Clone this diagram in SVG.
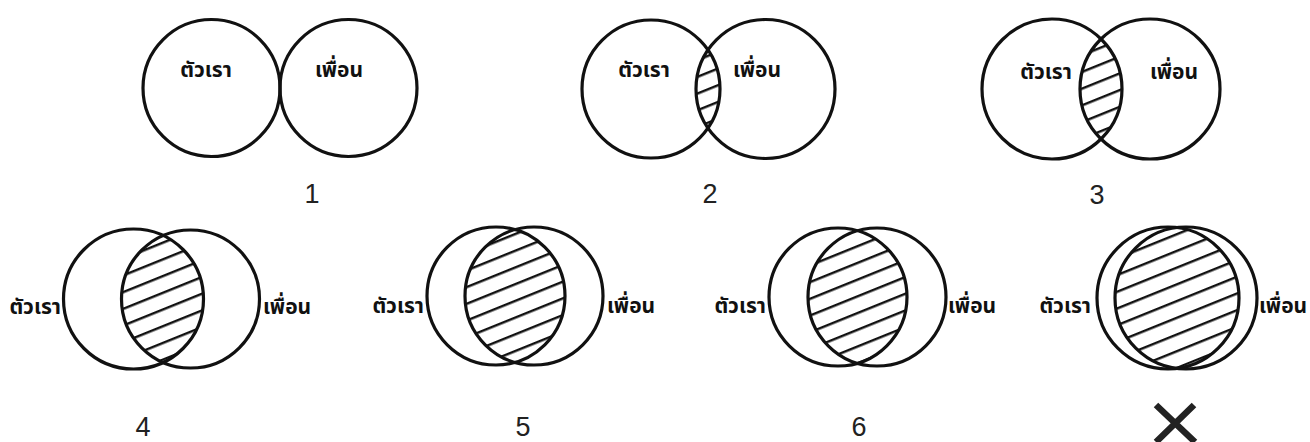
<svg xmlns="http://www.w3.org/2000/svg" width="1310" height="442" viewBox="0 0 1310 442">
<style>
.c{fill:none;stroke:#111;stroke-width:3.2}
.t{font-family:"Noto Sans Thai","Loma","Garuda","Noto Sans","DejaVu Sans",sans-serif;font-size:21px;font-weight:700;fill:#111}
.n{font-family:"Liberation Sans",Arial,sans-serif;font-size:27px;fill:#222;text-anchor:middle}
.m{text-anchor:middle}.e{text-anchor:end}.s{text-anchor:start}
</style>
<defs>
<pattern id="h" width="40" height="15.5" patternUnits="userSpaceOnUse" patternTransform="rotate(-22)">
<line x1="0" y1="7" x2="40" y2="7" stroke="#111" stroke-width="2.6"/>
</pattern>
<clipPath id="k2"><circle cx="651" cy="89" r="69"/></clipPath>
<clipPath id="k3"><circle cx="1052" cy="89" r="70"/></clipPath>
<clipPath id="k4"><circle cx="133.5" cy="299" r="70"/></clipPath>
<clipPath id="k5"><circle cx="496" cy="296" r="69"/></clipPath>
<clipPath id="k6"><circle cx="838" cy="297" r="69"/></clipPath>
<clipPath id="k7"><circle cx="1168" cy="298" r="71"/></clipPath>
</defs>
<rect width="1310" height="442" fill="#fff"/>
<g id="d1">
<circle class="c" cx="211.5" cy="88" r="68.5"/>
<circle class="c" cx="348.5" cy="88" r="68.5"/>
<text class="t m" x="206" y="77">ตัวเรา</text>
<text class="t m" x="339" y="77">เพื่อน</text>
<text class="n" x="312" y="203">1</text>
</g>
<g id="d2">
<circle cx="765.5" cy="89" r="69.5" fill="url(#h)" clip-path="url(#k2)"/>
<circle class="c" cx="651" cy="89" r="69"/>
<circle class="c" cx="765.5" cy="89" r="69.5"/>
<text class="t m" x="644" y="77">ตัวเรา</text>
<text class="t m" x="757" y="77">เพื่อน</text>
<text class="n" x="710" y="203">2</text>
</g>
<g id="d3">
<circle cx="1150" cy="89" r="70" fill="url(#h)" clip-path="url(#k3)"/>
<circle class="c" cx="1052" cy="89" r="70"/>
<circle class="c" cx="1150" cy="89" r="70"/>
<text class="t m" x="1046" y="79">ตัวเรา</text>
<text class="t m" x="1174" y="79">เพื่อน</text>
<text class="n" x="1097" y="204">3</text>
</g>
<g id="d4">
<circle cx="190.5" cy="299" r="69" fill="url(#h)" clip-path="url(#k4)"/>
<circle class="c" cx="133.5" cy="299" r="70"/>
<circle class="c" cx="190.5" cy="299" r="69"/>
<text class="t e" x="61" y="314">ตัวเรา</text>
<text class="t s" x="263" y="314">เพื่อน</text>
<text class="n" x="143" y="436">4</text>
</g>
<g id="d5">
<circle cx="534" cy="296" r="69" fill="url(#h)" clip-path="url(#k5)"/>
<circle class="c" cx="496" cy="296" r="69"/>
<circle class="c" cx="534" cy="296" r="69"/>
<text class="t e" x="424" y="313">ตัวเรา</text>
<text class="t s" x="607" y="313">เพื่อน</text>
<text class="n" x="523" y="436">5</text>
</g>
<g id="d6">
<circle cx="877" cy="297" r="69" fill="url(#h)" clip-path="url(#k6)"/>
<circle class="c" cx="838" cy="297" r="69"/>
<circle class="c" cx="877" cy="297" r="69"/>
<text class="t e" x="766" y="313">ตัวเรา</text>
<text class="t s" x="948" y="313">เพื่อน</text>
<text class="n" x="859" y="436">6</text>
</g>
<g id="d7">
<circle cx="1186" cy="298" r="71" fill="url(#h)" clip-path="url(#k7)"/>
<circle class="c" cx="1168" cy="298" r="71"/>
<circle class="c" cx="1186" cy="298" r="71"/>
<text class="t e" x="1091" y="313">ตัวเรา</text>
<text class="t s" x="1259" y="313">เพื่อน</text>
<path d="M1156 405 L1195 442 M1194 405 L1156 442" stroke="#222" stroke-width="6.5" fill="none"/>
</g>
</svg>
